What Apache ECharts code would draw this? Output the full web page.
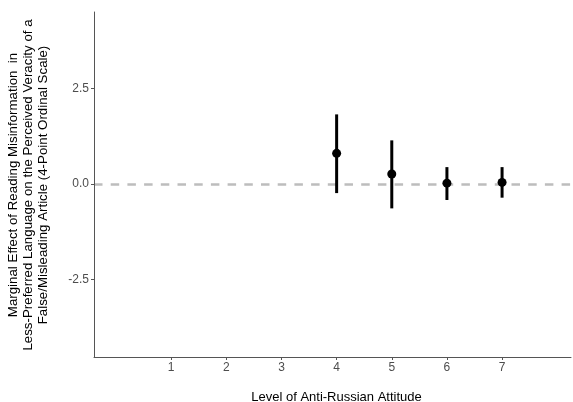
<!DOCTYPE html>
<html><head><meta charset="utf-8">
<script src="https://cdn.jsdelivr.net/npm/echarts@6/dist/echarts.min.js"></script>
<style>html,body{margin:0;padding:0;background:#fff}#c{width:573px;height:402px}</style>
</head><body><div id="c"></div>
<script>
const levels = [4, 5, 6, 7];
const estimates = [0.80, 0.26, 0.02, 0.04];
const lower = [-0.24, -0.64, -0.42, -0.36];
const upper = [1.82, 1.14, 0.44, 0.44];
const xTicks = [1, 2, 3, 4, 5, 6, 7];
const yTicks = [-2.5, 0, 2.5];

const chart = echarts.init(document.getElementById('c'));
const font = 'Liberation Sans, Arial, Helvetica, sans-serif';
chart.setOption({
  animation: false,
  grid: {left: 94, right: 2, top: 12, bottom: 45, containLabel: false, outerBoundsMode: 'none'},
  xAxis: {
    type: 'value', min: -0.4, max: 8.25,
    splitLine: {show: false},
    axisLine: {show: true, onZero: false, lineStyle: {color: '#555', width: 1}},
    axisTick: {show: true, length: 3, lineStyle: {color: '#555'}, customValues: xTicks},
    axisLabel: {color: '#4d4d4d', fontSize: 12, fontFamily: font, margin: 5, customValues: xTicks,
      formatter: v => String(v)},
    name: 'Level of Anti-Russian Attitude', nameLocation: 'middle', nameGap: 34,
    nameTextStyle: {color: '#000', fontSize: 13, fontFamily: font, padding: [0, 0, 0, 8]}
  },
  yAxis: {
    type: 'value', min: -4.53, max: 4.5,
    splitLine: {show: false},
    axisLine: {show: true, onZero: false, lineStyle: {color: '#555', width: 1}},
    axisTick: {show: true, length: 3, lineStyle: {color: '#555'}, customValues: yTicks},
    axisLabel: {color: '#4d4d4d', fontSize: 12, fontFamily: font, margin: 5, customValues: yTicks,
      formatter: v => v.toFixed(1)}
  },
  graphic: [{
    type: 'text', x: 28, y: 185, rotation: Math.PI / 2,
    style: {
      text: 'Marginal Effect of Reading Misinformation  in\nLess-Preferred Language on the Perceived Veracity of a\nFalse/Misleading Article (4-Point Ordinal Scale)',
      align: 'center', verticalAlign: 'middle', lineHeight: 15,
      fontSize: 13.3, fontFamily: font, fill: '#000'
    }
  }],
  series: [
    {
      type: 'line', data: [], z: 0,
      markLine: {
        silent: true, symbol: 'none', label: {show: false}, z: 0,
        lineStyle: {color: '#bdbdbd', width: 2.5, type: [8.5, 8.2]},
        data: [{yAxis: 0}]
      }
    },
    {
      type: 'custom',
      data: levels.map((l, i) => [l, lower[i], upper[i]]),
      renderItem: (params, api) => {
        const a = api.coord([api.value(0), api.value(1)]);
        const b = api.coord([api.value(0), api.value(2)]);
        return {type: 'line', shape: {x1: a[0], y1: a[1], x2: b[0], y2: b[1]},
          style: {stroke: '#000', lineWidth: 3}};
      },
      z: 5
    },
    {
      type: 'scatter', symbol: 'circle', symbolSize: 9,
      itemStyle: {color: '#000', opacity: 1},
      data: levels.map((l, i) => [l, estimates[i]]), z: 6
    }
  ]
});
</script></body></html>
